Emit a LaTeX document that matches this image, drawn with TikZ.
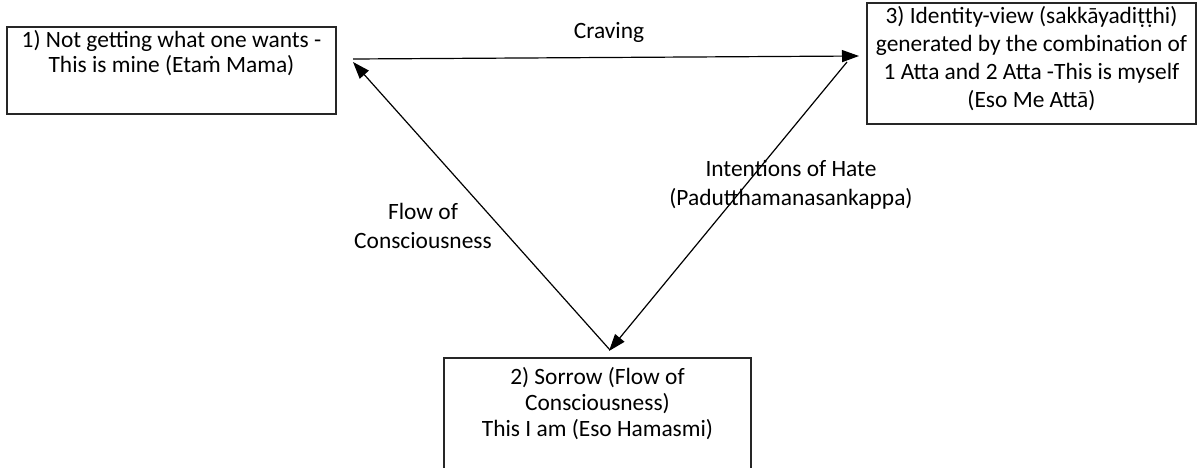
\documentclass[tikz,border=0pt]{standalone}
\usepackage{fontspec}
\setmainfont{Carlito}
\usetikzlibrary{arrows.meta}
\begin{document}
\begin{tikzpicture}[x=1pt,y=-1pt,
  box/.style={draw=black!85,line width=1.1pt,rectangle,inner sep=0pt},
  txt/.style={inner sep=0pt,align=center,font=\fontsize{23.4}{28}\selectfont},
  conn/.style={line width=1.2pt,-{Triangle[length=17pt,width=12pt]}}]
\useasboundingbox (0,0) rectangle (1203,468);
% boxes
\node[box,minimum width=329pt,minimum height=87pt] (b1) at (171.5,70.5) {};
\node[box,minimum width=329pt,minimum height=121pt] (b3) at (1031.5,63.5) {};
\node[box,minimum width=307pt,minimum height=120pt] (b2) at (597.5,418) {};
% box texts
\node[txt,anchor=base] (t1a) at (171.5,48) {1) Not getting what one wants -};
\node[txt,anchor=base] (t1b) at (171.5,73) {This is mine (Etaṁ Mama)};
\node[txt,anchor=base] (t3a) at (1031.5,24) {3) Identity-view (sakkāyadiṭṭhi)};
\node[txt,anchor=base] (t3b) at (1031.5,52) {generated by the combination of};
\node[txt,anchor=base] (t3c) at (1031.5,80) {1 Atta and 2 Atta -This is myself};
\node[txt,anchor=base] (t3d) at (1031.5,108) {(Eso Me Attā)};
\node[txt,anchor=base] (t2a) at (597.5,384) {2) Sorrow (Flow of};
\node[txt,anchor=base] (t2b) at (597.5,410) {Consciousness)};
\node[txt,anchor=base] (t2c) at (597.5,436) {This I am (Eso Hamasmi)};
% connector end points
\coordinate (c1s) at (353,59);
\coordinate (c1e) at (859,56);
\coordinate (c2s) at (610,350);
\coordinate (c2e) at (353,62);
\coordinate (c3s) at (847,62);
\coordinate (c3e) at (609,351);
\draw[conn] (c1s) -- (c1e);
\draw[conn] (c2s) -- (c2e);
\draw[conn] (c3s) -- (c3e);
% connector labels
\node[txt,anchor=base] (l1) at (609,39) {Craving};
\node[txt,anchor=base] (l2a) at (423,219) {Flow of};
\node[txt,anchor=base] (l2b) at (423,248) {Consciousness};
\node[txt,anchor=base] (l3a) at (791,177) {Intentions of Hate};
\node[txt,anchor=base] (l3b) at (791,205) {(Padutthamanasankappa)};
\end{tikzpicture}
\end{document}
